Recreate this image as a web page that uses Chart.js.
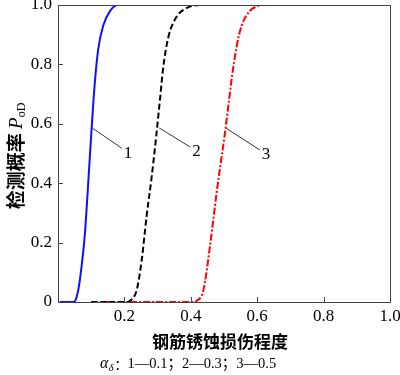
<!DOCTYPE html>
<html>
<head>
<meta charset="utf-8">
<script src="https://cdn.jsdelivr.net/npm/chart.js@4.4.1/dist/chart.umd.min.js"></script>
<style>
  html, body { margin: 0; padding: 0; background: #fff; }
  #wrap { width: 400px; height: 375px; position: relative; }
</style>
</head>
<body>
<div id="wrap"><canvas id="pod"></canvas></div>
<script>
// curve values (damage degree -> detection probability)
const x1 = [0.006, 0.045, 0.051, 0.061, 0.071, 0.081, 0.091, 0.101, 0.111, 0.121, 0.136, 0.157, 0.180, 0.190];
const y1 = [0, 0, 0.003, 0.04, 0.12, 0.23, 0.40, 0.58, 0.74, 0.85, 0.93, 0.98, 1.0, 1.0];

const x2 = [0.10, 0.205, 0.217, 0.237, 0.252, 0.267, 0.282, 0.297, 0.307, 0.317, 0.332, 0.357, 0.388, 0.428, 0.44];
const y2 = [0, 0, 0.004, 0.04, 0.14, 0.29, 0.42, 0.57, 0.68, 0.79, 0.89, 0.96, 0.99, 1.0, 1.0];

const x3 = [0.10, 0.405, 0.418, 0.438, 0.458, 0.478, 0.493, 0.503, 0.513, 0.523, 0.538, 0.553, 0.578, 0.608];
const y3 = [0, 0, 0.004, 0.04, 0.19, 0.37, 0.49, 0.57, 0.66, 0.75, 0.86, 0.93, 0.98, 1.0];

const curveLabels = ['1', '2', '3'];
// leader line for each curve label: start on the curve, end next to the number
const leadStartX = [0.103, 0.305, 0.505];
const leadStartY = [0.586, 0.586, 0.586];
const leadEndX = [0.192, 0.398, 0.608];
const leadEndY = [0.518, 0.522, 0.512];

const xTicks = [0, 0.2, 0.4, 0.6, 0.8, 1.0];
const yTicks = [0, 0.2, 0.4, 0.6, 0.8, 1.0];

const serif = "'Liberation Serif', 'Times New Roman', serif";
const cjk = "'Noto Sans CJK SC', sans-serif";

function pts(xs, ys) {
    return xs.map(function(x, i) { return { x: x, y: ys[i] }; });
}

const extras = {
    id: 'extras',
    afterDraw(chart) {
        const ctx = chart.ctx;
        const a = chart.chartArea;
        const xs = chart.scales.x, ys = chart.scales.y;
        ctx.save();

        // frame
        ctx.strokeStyle = '#444';
        ctx.lineWidth = 1;
        ctx.strokeRect(Math.round(a.left) + 0.5, Math.round(a.top) + 0.5,
            Math.round(a.right - a.left), Math.round(a.bottom - a.top));

        // inward ticks
        ctx.beginPath();
        xTicks.forEach(function(v) {
            const px = Math.round(xs.getPixelForValue(v)) + 0.5;
            ctx.moveTo(px, a.bottom);
            ctx.lineTo(px, a.bottom - 5);
        });
        yTicks.forEach(function(v) {
            const py = Math.round(ys.getPixelForValue(v)) + 0.5;
            ctx.moveTo(a.left, py);
            ctx.lineTo(a.left + 5, py);
        });
        ctx.stroke();

        // curve labels with leader lines
        ctx.strokeStyle = '#333';
        ctx.fillStyle = '#000';
        ctx.font = '17px ' + serif;
        ctx.textBaseline = 'middle';
        ctx.textAlign = 'left';
        curveLabels.forEach(function(t, i) {
            const sx = xs.getPixelForValue(leadStartX[i]), sy = ys.getPixelForValue(leadStartY[i]);
            const ex = xs.getPixelForValue(leadEndX[i]), ey = ys.getPixelForValue(leadEndY[i]);
            ctx.beginPath();
            ctx.moveTo(sx, sy);
            ctx.lineTo(ex, ey);
            ctx.stroke();
            ctx.fillText(t, ex + 2, ey + 5);
        });

        // y title, rotated
        ctx.save();
        ctx.translate(16, 156);
        ctx.rotate(-Math.PI / 2);
        ctx.textBaseline = 'middle';
        const part1 = '检测概率 ';
        ctx.font = 'bold 19px ' + cjk;
        const w1 = ctx.measureText(part1).width;
        ctx.font = 'italic 19px ' + serif;
        const w2 = ctx.measureText('P').width;
        ctx.font = '12px ' + serif;
        const w3 = ctx.measureText('oD').width;
        let cx = -(w1 + w2 + w3) / 2;
        ctx.textAlign = 'left';
        ctx.font = 'bold 19px ' + cjk;
        ctx.fillText(part1, cx, 0);
        cx += w1;
        ctx.font = 'italic 19px ' + serif;
        ctx.fillText('P', cx, 1);
        cx += w2;
        ctx.font = '12px ' + serif;
        ctx.fillText('oD', cx, 6);
        ctx.restore();

        // x title
        ctx.textAlign = 'center';
        ctx.font = 'bold 17px ' + cjk;
        ctx.fillText('钢筋锈蚀损伤程度', 220, 342);

        // note line
        ctx.textAlign = 'left';
        let nx = 100;
        const ny = 364;
        ctx.font = 'italic 16px ' + serif;
        ctx.fillText('α', nx, ny);
        nx += ctx.measureText('α').width;
        ctx.font = 'italic 11px ' + serif;
        ctx.fillText('δ', nx, ny + 4);
        nx += ctx.measureText('δ').width + 1;
        ctx.font = '13px ' + cjk;
        ctx.fillText('：', nx, ny);
        nx += ctx.measureText('：').width;
        ctx.font = '14.5px ' + serif + ", " + cjk;
        ctx.fillText('1—0.1；2—0.3；3—0.5', nx, ny);

        ctx.restore();
    }
};

const ctx = document.getElementById('pod').getContext('2d');
const podChart = new Chart(ctx, {
    type: 'line',
    data: {
        datasets: [
            {
                data: pts(x1, y1),
                borderColor: '#1010ff',
                borderWidth: 2,
                pointRadius: 0,
                cubicInterpolationMode: 'monotone'
            },
            {
                data: pts(x2, y2),
                borderColor: '#000000',
                borderWidth: 2,
                borderDash: [6, 3],
                pointRadius: 0,
                cubicInterpolationMode: 'monotone'
            },
            {
                data: pts(x3, y3),
                borderColor: '#ff0000',
                borderWidth: 2,
                borderDash: [7, 2, 2, 2],
                pointRadius: 0,
                cubicInterpolationMode: 'monotone'
            }
        ]
    },
    options: {
        responsive: true,
        maintainAspectRatio: false,
        animation: false,
        layout: { padding: { left: 0, right: 10, top: 5, bottom: 0 } },
        plugins: {
            legend: { display: false },
            tooltip: { enabled: false }
        },
        scales: {
            x: {
                type: 'linear',
                min: 0,
                max: 1,
                grid: { display: false, drawTicks: false },
                border: { display: false },
                afterBuildTicks: function(scale) {
                    scale.ticks = xTicks.map(function(v) { return { value: v }; });
                },
                afterFit: function(scale) {
                    scale.height = 73;
                    scale.paddingLeft = 0;
                    scale.paddingRight = 0;
                },
                ticks: {
                    autoSkip: false,
                    maxRotation: 0,
                    padding: 4,
                    color: '#000',
                    font: { family: serif, size: 17 },
                    callback: function(v) { return v === 0 ? '' : v.toFixed(1); }
                }
            },
            y: {
                min: 0,
                max: 1,
                grid: { display: false, drawTicks: false },
                border: { display: false },
                afterBuildTicks: function(scale) {
                    scale.ticks = yTicks.map(function(v) { return { value: v }; });
                },
                afterFit: function(scale) {
                    scale.width = 58;
                    scale.paddingTop = 0;
                    scale.paddingBottom = 0;
                },
                ticks: {
                    autoSkip: false,
                    padding: 6,
                    color: '#000',
                    font: { family: serif, size: 17 },
                    callback: function(v) { return v === 0 ? '0' : v.toFixed(1); }
                }
            }
        }
    },
    plugins: [extras]
});
</script>
</body>
</html>
